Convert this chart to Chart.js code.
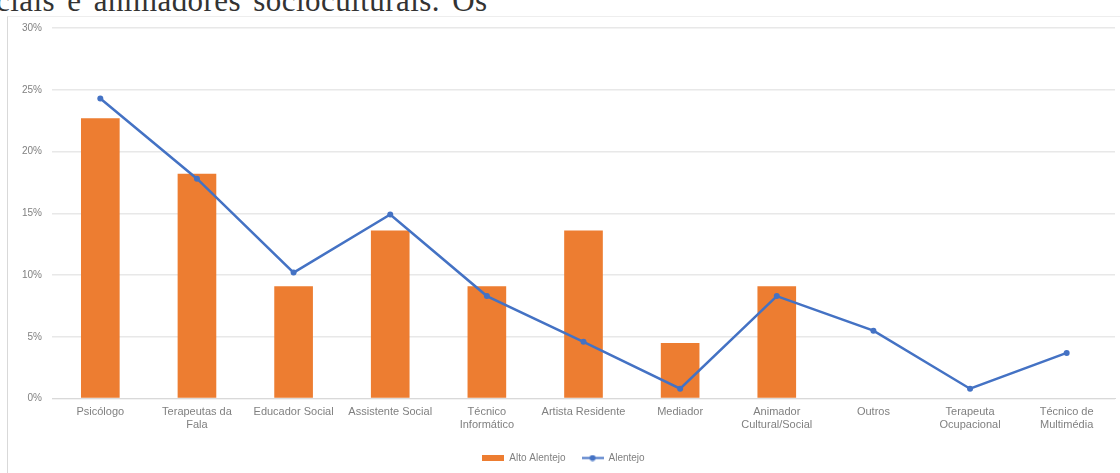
<!DOCTYPE html>
<html>
<head>
<meta charset="utf-8">
<script src="https://cdn.jsdelivr.net/npm/chart.js@4.4.0/dist/chart.umd.min.js"></script>
<style>
  html, body { margin: 0; padding: 0; background: #fff; overflow: hidden; }
  #wrap { position: relative; width: 1120px; height: 473px; }
  #topText {
    position: absolute; left: -4px; top: -15px; line-height: 1;
    font-family: "Liberation Serif", "DejaVu Serif", serif; font-size: 31px;
    color: #333; white-space: nowrap; letter-spacing: 0.45px; word-spacing: 4px;
  }
  #frame { position: absolute; left: 7px; top: 16px; width: 1113px; height: 460px; border-left: 1px solid #d9d9d9; border-top: 1px solid #eeeeee; }
  #chartBox { position: absolute; left: 0; top: 0; width: 1120px; height: 473px; }
</style>
</head>
<body>
<div id="wrap">
  <div id="topText">ciais e animadores socioculturais. Os</div>
  <div id="frame"></div>
  <div id="chartBox"><canvas id="myChart" width="1120" height="473"></canvas></div>
</div>
<script>
// categories and values (percent)
const categories = [
  'Psicólogo', ['Terapeutas da', 'Fala'], 'Educador Social', 'Assistente Social',
  ['Técnico', 'Informático'], 'Artista Residente', 'Mediador', ['Animador', 'Cultural/Social'],
  'Outros', ['Terapeuta', 'Ocupacional'], ['Técnico de', 'Multimédia']
];
const altoAlentejo = [22.7, 18.2, 9.1, 13.6, 9.1, 13.6, 4.5, 9.1, 0, 0, 0];
const alentejo = [24.3, 17.8, 10.2, 14.9, 8.3, 4.6, 0.8, 8.3, 5.5, 0.8, 3.7];
const yTicks = [0, 5, 10, 15, 20, 25, 30];

const orange = '#ED7D31';
const blue = '#4472C4';
const textGray = '#808080';

// legend markers
function barMarker(){
  const c = document.createElement('canvas');
  c.width = 22; c.height = 6;
  const g = c.getContext('2d');
  g.fillStyle = orange;
  g.fillRect(0, 0, 22, 6);
  return c;
}
function lineMarker(){
  const c = document.createElement('canvas');
  c.width = 22; c.height = 7;
  const g = c.getContext('2d');
  g.strokeStyle = blue; g.lineWidth = 2;
  g.beginPath(); g.moveTo(0, 3.5); g.lineTo(22, 3.5); g.stroke();
  g.fillStyle = blue;
  g.beginPath(); g.arc(11, 3.5, 3, 0, Math.PI * 2); g.fill();
  return c;
}

const ctx = document.getElementById('myChart').getContext('2d');

const myChart = new Chart(ctx, {
  type: 'bar',
  data: {
    labels: categories,
    datasets: [
      {
        type: 'line',
        label: 'Alentejo',
        data: alentejo,
        borderColor: blue,
        backgroundColor: blue,
        borderWidth: 2.5,
        pointRadius: 3,
        pointBackgroundColor: blue,
        pointBorderWidth: 0,
        tension: 0,
        order: 0
      },
      {
        label: 'Alto Alentejo',
        data: altoAlentejo,
        backgroundColor: orange,
        barPercentage: 1,
        categoryPercentage: 0.4,
        order: 1
      }
    ]
  },
  options: {
    responsive: false,
    animation: false,
    devicePixelRatio: 1,
    layout: { padding: { left: 12, right: 5, top: 28, bottom: 0 } },
    plugins: {
      tooltip: { enabled: false },
      legend: {
        position: 'bottom',
        labels: {
          usePointStyle: true,
          pointStyleWidth: 22,
          boxHeight: 7,
          color: textGray,
          font: { family: 'Liberation Sans', size: 10 },
          padding: 16,
          generateLabels: function(chart){
            return [
              { text: 'Alto Alentejo', pointStyle: barMarker(), fontColor: textGray, datasetIndex: 1, lineWidth: 0 },
              { text: 'Alentejo', pointStyle: lineMarker(), fontColor: textGray, datasetIndex: 0, lineWidth: 0 }
            ];
          }
        }
      }
    },
    scales: {
      x: {
        afterFit: function(scale){ scale.height += 6; },
        grid: { display: false },
        border: { display: true, color: '#d9d9d9' },
        ticks: {
          color: textGray,
          font: { family: 'Liberation Sans', size: 11, lineHeight: 1.2 },
          maxRotation: 0,
          autoSkip: false,
          padding: -1
        }
      },
      y: {
        min: 0,
        max: 30,
        afterBuildTicks: function(scale){
          scale.ticks = yTicks.map(v => ({ value: v }));
        },
        afterFit: function(scale){ scale.width = 40; },
        grid: { color: '#e8e8e8', drawTicks: false, lineWidth: 1.5 },
        border: { display: false },
        ticks: {
          color: textGray,
          font: { family: 'Liberation Sans', size: 10 },
          padding: 10,
          callback: v => v + '%'
        }
      }
    }
  }
});
</script>
</body>
</html>
